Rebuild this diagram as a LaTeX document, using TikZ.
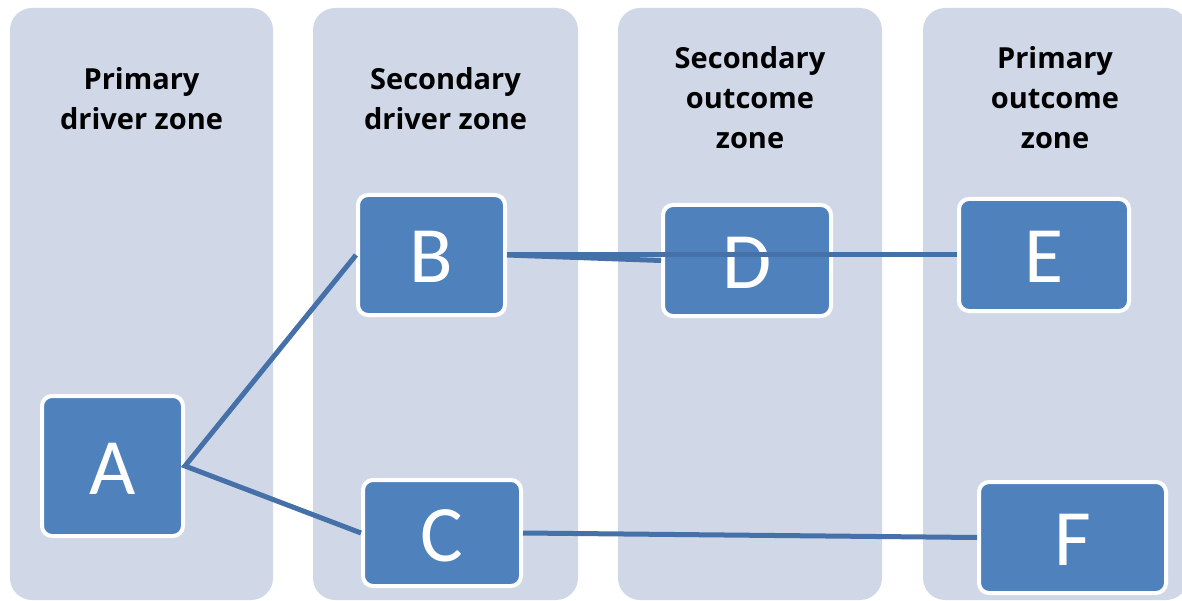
\documentclass[tikz,border=0pt]{standalone}
\usepackage{fontspec}
\setmainfont{Carlito}
\newfontfamily\headfont{Open Sans}
\definecolor{lanefill}{HTML}{D0D8E8}
\definecolor{blockblue}{HTML}{4F81BD}
\definecolor{linkblue}{HTML}{4570A8}
\begin{document}
\begin{tikzpicture}[x=1pt,y=-1pt,
  lane/.style={fill=lanefill, rounded corners=22pt},
  heading/.style={font=\headfont\bfseries\fontsize{29}{40}\selectfont, align=center, inner sep=0pt},
  block/.style={draw=white, line width=4pt, fill=blockblue, rounded corners=10pt,
                text=white, font=\fontsize{80}{80}\selectfont, inner sep=0pt,
                text height=56pt, text depth=0pt},
  link/.style={draw=linkblue, line width=5pt, line join=miter}]
\useasboundingbox (0,0) rectangle (1182,601);
\clip (0,0) rectangle (1182,601);

% four zone columns
\path[lane] (10,8) rectangle (273,600);
\path[lane] (313,8) rectangle (578,600);
\path[lane] (618,8) rectangle (882,600);
\path[lane] (923,8) rectangle (1188,600);

% zone headings
\node[heading] (h1) at (141.5,98.5) {Primary\\driver zone};
\node[heading] (h2) at (445.5,98.5) {Secondary\\driver zone};
\node[heading] (h3) at (750,97.5) {Secondary\\outcome\\zone};
\node[heading] (h4) at (1055,97.5) {Primary\\outcome\\zone};

% blocks
\node[block, minimum width=141pt, minimum height=140pt] (A) at (112.5,466) {A};
\node[block, minimum width=147pt, minimum height=120pt] (B) at (431.5,255) {B};
\node[block, minimum width=158pt, minimum height=106pt] (C) at (442,533) {C};
\node[block, minimum width=168pt, minimum height=111pt] (D) at (747,260.5) {D};
\node[block, minimum width=170pt, minimum height=112pt] (E) at (1044,255) {E};
\node[block, minimum width=187pt, minimum height=111pt] (F) at (1072.5,537.5) {F};

% connectors
\draw[link] (B.west) -- (A.east) -- (C.west);
\draw[link] (B.east) -- (D.west);
\draw[link] (B.east) -- (E.west);
\draw[link] (C.east) -- (F.west);
\end{tikzpicture}
\end{document}
